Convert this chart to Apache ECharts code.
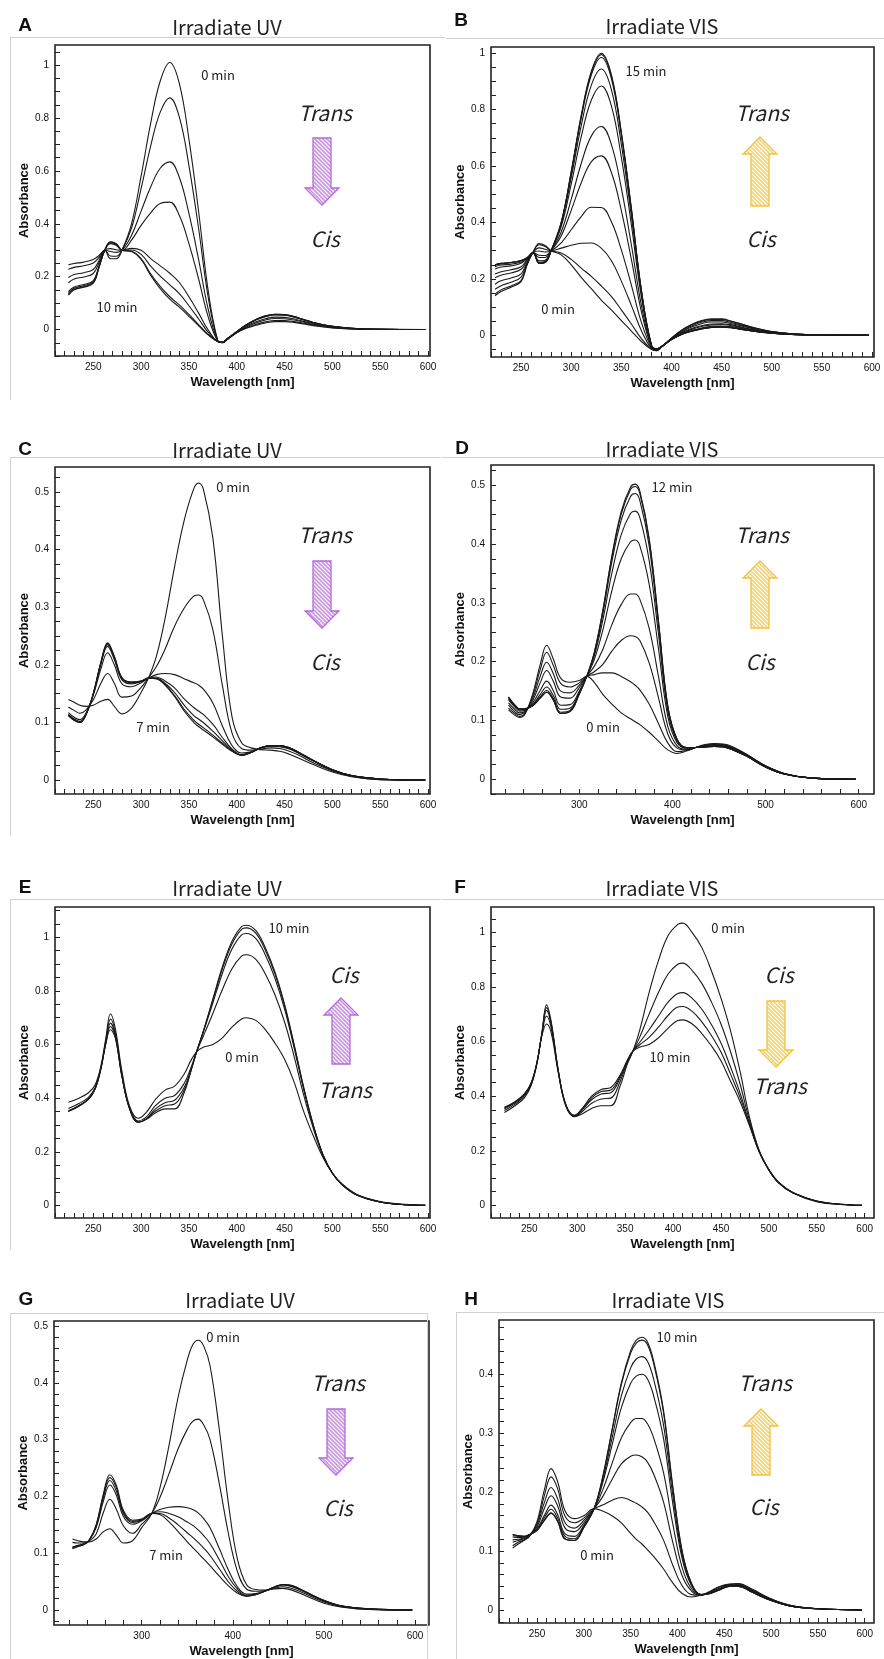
<!DOCTYPE html>
<html>
<head>
<meta charset="utf-8">
<script src="https://cdn.jsdelivr.net/npm/echarts@6/dist/echarts.min.js"></script>
<style>
html,body{margin:0;padding:0;background:#fff}
#chart{width:884px;height:1659px}
</style>
</head>
<body>
<div id="chart"></div>
<script>
// ---------- wavelength sampling (nm) ----------
const wlAB = [224,230,240,250,256,262,268,274,280,290,300,310,320,330,340,350,360,370,380,385,390,400,410,420,430,440,450,460,470,480,500,520,550,597];
const wlCD = [224,230,236,242,250,258,265,272,280,290,300,308,316,325,335,345,355,360,365,375,385,395,405,415,425,435,445,455,465,480,500,520,550,597];
const wlEF = [224,235,245,252,258,263,268,273,280,288,297,305,315,325,335,345,352,358,365,375,385,395,405,410,420,430,440,450,460,470,480,490,500,510,525,550,575,597];
const wlGH = [224,230,236,242,250,258,265,272,280,290,300,311,320,330,340,350,356,362,368,375,385,395,405,415,425,435,445,455,465,480,500,520,550,597];

// ---------- tick labels ----------
const xTicks50 = [250,300,350,400,450,500,550,600];
const xTicks100 = [300,400,500,600];
const yTicks02 = [0,0.2,0.4,0.6,0.8,1];
const yTicks01 = [0,0.1,0.2,0.3,0.4,0.5];
const yTicks01H = [0,0.1,0.2,0.3,0.4];

// ---------- A: irradiate UV, 0 min -> 10 min ----------
const specA0  = [0.245,0.250,0.255,0.265,0.280,0.300,0.268,0.268,0.300,0.400,0.580,0.780,0.940,1.010,0.930,0.720,0.450,0.150,-0.040,-0.050,-0.038,-0.012,0.005,0.016,0.025,0.030,0.030,0.027,0.021,0.015,0.006,0.002,0.000,0.000];
const specA1  = [0.228,0.235,0.241,0.252,0.273,0.300,0.278,0.277,0.300,0.384,0.533,0.694,0.822,0.876,0.803,0.620,0.385,0.125,-0.041,-0.050,-0.038,-0.011,0.007,0.019,0.029,0.034,0.034,0.030,0.024,0.017,0.007,0.002,0.000,0.000];
const specA2  = [0.197,0.208,0.215,0.227,0.261,0.300,0.295,0.292,0.300,0.356,0.448,0.539,0.610,0.634,0.575,0.439,0.267,0.079,-0.042,-0.049,-0.037,-0.010,0.010,0.025,0.036,0.042,0.041,0.036,0.028,0.020,0.009,0.003,0.001,0.000];
const specA3  = [0.177,0.191,0.199,0.212,0.253,0.300,0.306,0.302,0.300,0.338,0.394,0.441,0.477,0.482,0.431,0.325,0.193,0.050,-0.043,-0.049,-0.036,-0.010,0.013,0.029,0.041,0.047,0.046,0.040,0.031,0.022,0.010,0.004,0.001,0.000];
const specA4  = [0.143,0.161,0.170,0.185,0.240,0.300,0.325,0.319,0.300,0.307,0.300,0.268,0.241,0.213,0.178,0.124,0.063,-0.001,-0.045,-0.048,-0.035,-0.008,0.017,0.036,0.049,0.055,0.054,0.047,0.036,0.026,0.011,0.005,0.001,0.000];
const specA5  = [0.137,0.156,0.166,0.180,0.238,0.300,0.328,0.322,0.300,0.301,0.284,0.240,0.202,0.169,0.136,0.090,0.041,-0.010,-0.045,-0.048,-0.035,-0.008,0.017,0.037,0.050,0.056,0.055,0.048,0.037,0.026,0.012,0.005,0.001,0.000];
const specA6  = [0.132,0.152,0.162,0.177,0.236,0.300,0.331,0.324,0.300,0.296,0.268,0.211,0.163,0.124,0.093,0.057,0.019,-0.018,-0.045,-0.048,-0.035,-0.008,0.018,0.038,0.052,0.058,0.057,0.049,0.038,0.027,0.012,0.005,0.001,0.000];
const specA10 = [0.130,0.150,0.160,0.175,0.235,0.300,0.332,0.325,0.300,0.295,0.265,0.205,0.155,0.115,0.085,0.050,0.015,-0.020,-0.045,-0.048,-0.035,-0.008,0.018,0.038,0.052,0.058,0.057,0.049,0.038,0.027,0.012,0.005,0.001,0.000];

// ---------- B: irradiate VIS, 0 min -> 15 min ----------
const specB0  = [0.140,0.155,0.170,0.190,0.250,0.295,0.325,0.318,0.300,0.285,0.250,0.205,0.165,0.125,0.090,0.052,0.015,-0.022,-0.050,-0.055,-0.042,-0.010,0.018,0.038,0.052,0.058,0.058,0.050,0.040,0.029,0.013,0.005,0.001,0.000];
const specB1  = [0.146,0.161,0.175,0.194,0.251,0.295,0.321,0.315,0.300,0.292,0.269,0.238,0.209,0.175,0.138,0.090,0.040,-0.012,-0.049,-0.055,-0.042,-0.010,0.017,0.037,0.050,0.056,0.056,0.049,0.039,0.028,0.013,0.005,0.001,0.000];
const specB2  = [0.163,0.176,0.188,0.206,0.255,0.294,0.310,0.305,0.300,0.309,0.319,0.326,0.327,0.309,0.265,0.192,0.106,0.016,-0.047,-0.054,-0.042,-0.011,0.015,0.033,0.046,0.052,0.052,0.045,0.036,0.026,0.012,0.005,0.001,0.000];
const specB3  = [0.181,0.193,0.203,0.218,0.259,0.294,0.299,0.295,0.300,0.328,0.374,0.421,0.454,0.453,0.403,0.303,0.178,0.046,-0.044,-0.052,-0.041,-0.012,0.012,0.029,0.041,0.047,0.047,0.041,0.033,0.024,0.011,0.004,0.001,0.000];
const specB4  = [0.204,0.213,0.221,0.234,0.265,0.293,0.284,0.283,0.300,0.352,0.443,0.541,0.615,0.636,0.578,0.442,0.269,0.084,-0.041,-0.051,-0.041,-0.013,0.009,0.024,0.034,0.040,0.041,0.037,0.029,0.021,0.009,0.004,0.001,0.000];
const specB5  = [0.217,0.225,0.232,0.243,0.268,0.293,0.276,0.276,0.300,0.366,0.482,0.609,0.706,0.740,0.677,0.522,0.321,0.106,-0.039,-0.050,-0.041,-0.014,0.007,0.021,0.031,0.037,0.038,0.034,0.027,0.019,0.009,0.004,0.001,0.000];
const specB6  = [0.235,0.242,0.246,0.255,0.272,0.292,0.264,0.266,0.300,0.385,0.536,0.704,0.833,0.884,0.814,0.631,0.392,0.136,-0.037,-0.049,-0.040,-0.014,0.005,0.017,0.026,0.032,0.033,0.030,0.024,0.017,0.008,0.003,0.001,0.000];
const specB7  = [0.243,0.249,0.252,0.260,0.273,0.292,0.259,0.262,0.300,0.393,0.559,0.743,0.886,0.944,0.872,0.677,0.422,0.148,-0.036,-0.048,-0.040,-0.015,0.004,0.016,0.024,0.030,0.031,0.028,0.022,0.016,0.007,0.003,0.001,0.000];
const specB8  = [0.248,0.253,0.257,0.264,0.275,0.292,0.256,0.259,0.300,0.398,0.574,0.770,0.922,0.985,0.911,0.709,0.443,0.157,-0.035,-0.048,-0.040,-0.015,0.003,0.014,0.023,0.029,0.030,0.027,0.021,0.015,0.007,0.003,0.001,0.000];
const specB9  = [0.250,0.255,0.258,0.265,0.275,0.292,0.255,0.258,0.300,0.399,0.578,0.777,0.930,0.995,0.920,0.716,0.447,0.159,-0.035,-0.048,-0.040,-0.015,0.003,0.014,0.022,0.028,0.029,0.027,0.021,0.015,0.007,0.003,0.001,0.000];
const specB15 = [0.250,0.255,0.258,0.265,0.275,0.292,0.255,0.258,0.300,0.400,0.580,0.780,0.935,1.000,0.925,0.720,0.450,0.160,-0.035,-0.048,-0.040,-0.015,0.003,0.014,0.022,0.028,0.029,0.027,0.021,0.015,0.007,0.003,0.001,0.000];

// ---------- C: irradiate UV, 0 min -> 7 min ----------
const specC0 = [0.140,0.135,0.130,0.128,0.130,0.137,0.140,0.128,0.115,0.125,0.152,0.178,0.215,0.280,0.370,0.450,0.505,0.515,0.505,0.420,0.250,0.110,0.065,0.056,0.053,0.052,0.050,0.045,0.038,0.027,0.014,0.006,0.001,0.000];
const specC1 = [0.127,0.121,0.116,0.121,0.139,0.168,0.185,0.168,0.144,0.146,0.161,0.178,0.197,0.227,0.267,0.298,0.319,0.321,0.313,0.261,0.164,0.082,0.055,0.052,0.054,0.056,0.055,0.050,0.043,0.030,0.016,0.007,0.001,0.000];
const specC2 = [0.117,0.109,0.105,0.115,0.147,0.193,0.221,0.200,0.167,0.162,0.169,0.177,0.183,0.185,0.183,0.176,0.169,0.165,0.158,0.134,0.094,0.060,0.047,0.049,0.056,0.059,0.058,0.054,0.046,0.033,0.017,0.008,0.002,0.000];
const specC3 = [0.114,0.106,0.102,0.113,0.149,0.201,0.232,0.209,0.174,0.167,0.171,0.177,0.179,0.172,0.160,0.141,0.126,0.120,0.114,0.097,0.074,0.054,0.044,0.049,0.056,0.059,0.059,0.055,0.047,0.034,0.018,0.008,0.002,0.000];
const specC4 = [0.113,0.105,0.101,0.112,0.149,0.203,0.235,0.212,0.176,0.169,0.171,0.177,0.177,0.168,0.152,0.130,0.112,0.106,0.100,0.085,0.068,0.052,0.044,0.048,0.056,0.060,0.060,0.056,0.048,0.034,0.018,0.008,0.002,0.000];
const specC5 = [0.112,0.104,0.100,0.112,0.150,0.204,0.237,0.214,0.177,0.170,0.172,0.177,0.176,0.166,0.147,0.123,0.104,0.097,0.091,0.078,0.064,0.051,0.043,0.048,0.056,0.060,0.060,0.056,0.048,0.034,0.018,0.008,0.002,0.000];
const specC7 = [0.112,0.104,0.100,0.112,0.150,0.205,0.238,0.215,0.178,0.170,0.172,0.177,0.176,0.165,0.145,0.120,0.100,0.093,0.087,0.075,0.062,0.050,0.043,0.048,0.056,0.060,0.060,0.056,0.048,0.034,0.018,0.008,0.002,0.000];

// ---------- D: irradiate VIS, 0 min -> 12 min ----------
const specD0  = [0.118,0.110,0.105,0.112,0.145,0.195,0.228,0.205,0.172,0.165,0.168,0.175,0.165,0.145,0.128,0.113,0.103,0.098,0.093,0.080,0.065,0.050,0.044,0.048,0.054,0.059,0.061,0.060,0.055,0.042,0.023,0.010,0.002,0.000];
const specD1  = [0.121,0.113,0.107,0.113,0.142,0.186,0.216,0.194,0.163,0.157,0.164,0.175,0.178,0.181,0.181,0.175,0.166,0.160,0.152,0.128,0.095,0.062,0.047,0.049,0.054,0.058,0.060,0.059,0.054,0.042,0.023,0.010,0.002,0.000];
const specD2  = [0.126,0.116,0.110,0.115,0.138,0.175,0.199,0.180,0.150,0.147,0.160,0.175,0.183,0.195,0.218,0.236,0.244,0.243,0.236,0.198,0.139,0.077,0.053,0.050,0.054,0.058,0.059,0.058,0.053,0.041,0.022,0.010,0.002,0.000];
const specD3  = [0.130,0.120,0.113,0.116,0.134,0.164,0.185,0.167,0.140,0.138,0.156,0.175,0.192,0.220,0.263,0.297,0.315,0.315,0.306,0.257,0.175,0.090,0.057,0.051,0.054,0.057,0.058,0.057,0.052,0.040,0.022,0.009,0.002,0.000];
const specD4  = [0.135,0.124,0.116,0.118,0.130,0.151,0.167,0.151,0.126,0.127,0.150,0.175,0.203,0.252,0.321,0.375,0.404,0.407,0.397,0.332,0.222,0.107,0.062,0.053,0.054,0.056,0.057,0.056,0.051,0.040,0.021,0.009,0.002,0.000];
const specD5  = [0.137,0.126,0.118,0.119,0.127,0.144,0.157,0.143,0.119,0.121,0.148,0.175,0.209,0.269,0.351,0.416,0.452,0.456,0.445,0.372,0.247,0.116,0.065,0.053,0.054,0.055,0.057,0.056,0.051,0.039,0.021,0.009,0.002,0.000];
const specD6  = [0.139,0.127,0.119,0.120,0.126,0.140,0.151,0.138,0.114,0.117,0.146,0.175,0.213,0.279,0.370,0.441,0.481,0.486,0.474,0.397,0.262,0.122,0.067,0.054,0.054,0.055,0.056,0.055,0.050,0.039,0.021,0.009,0.002,0.000];
const specD7  = [0.140,0.128,0.120,0.120,0.125,0.138,0.148,0.135,0.112,0.115,0.145,0.175,0.215,0.284,0.378,0.451,0.493,0.498,0.486,0.407,0.268,0.124,0.068,0.054,0.054,0.055,0.056,0.055,0.050,0.039,0.021,0.009,0.002,0.000];
const specD12 = [0.140,0.128,0.120,0.120,0.125,0.138,0.148,0.135,0.112,0.115,0.145,0.175,0.215,0.285,0.380,0.455,0.497,0.502,0.490,0.410,0.270,0.125,0.068,0.054,0.054,0.055,0.056,0.055,0.050,0.039,0.021,0.009,0.002,0.000];

// ---------- E: irradiate UV, 0 min -> 10 min ----------
const specE0  = [0.385,0.400,0.420,0.450,0.520,0.620,0.715,0.660,0.500,0.370,0.325,0.345,0.395,0.430,0.445,0.490,0.540,0.573,0.590,0.600,0.625,0.665,0.695,0.700,0.690,0.655,0.605,0.545,0.460,0.350,0.260,0.180,0.120,0.080,0.042,0.014,0.004,0.000];
const specE1  = [0.361,0.380,0.403,0.440,0.513,0.612,0.695,0.645,0.486,0.363,0.315,0.328,0.372,0.400,0.410,0.455,0.513,0.573,0.631,0.716,0.805,0.883,0.930,0.935,0.918,0.862,0.785,0.684,0.555,0.411,0.287,0.187,0.120,0.079,0.041,0.013,0.003,0.000];
const specE2  = [0.353,0.373,0.397,0.436,0.511,0.606,0.680,0.638,0.482,0.361,0.311,0.322,0.360,0.383,0.392,0.440,0.504,0.573,0.645,0.755,0.866,0.956,1.009,1.014,0.995,0.933,0.846,0.732,0.587,0.432,0.296,0.189,0.120,0.078,0.040,0.013,0.003,0.000];
const specE3  = [0.351,0.371,0.396,0.435,0.510,0.603,0.667,0.630,0.481,0.360,0.310,0.321,0.352,0.372,0.378,0.430,0.501,0.573,0.648,0.765,0.882,0.975,1.030,1.035,1.015,0.951,0.862,0.744,0.596,0.437,0.299,0.190,0.120,0.078,0.040,0.013,0.003,0.000];
const specE10 = [0.350,0.370,0.395,0.435,0.510,0.600,0.655,0.625,0.480,0.360,0.310,0.320,0.345,0.360,0.360,0.420,0.500,0.573,0.650,0.770,0.890,0.985,1.040,1.045,1.025,0.960,0.870,0.750,0.600,0.440,0.300,0.190,0.120,0.078,0.040,0.013,0.003,0.000];

// ---------- F: irradiate VIS, 0 min -> 10 min ----------
const specF0  = [0.340,0.365,0.395,0.440,0.520,0.620,0.665,0.630,0.490,0.365,0.325,0.335,0.355,0.365,0.365,0.440,0.515,0.565,0.640,0.780,0.900,0.990,1.030,1.035,1.000,0.945,0.860,0.760,0.640,0.490,0.320,0.200,0.130,0.082,0.045,0.013,0.003,0.000];
const specF1  = [0.348,0.371,0.401,0.444,0.522,0.624,0.694,0.647,0.494,0.367,0.327,0.343,0.374,0.390,0.393,0.457,0.521,0.565,0.615,0.701,0.782,0.849,0.884,0.888,0.861,0.814,0.746,0.665,0.563,0.444,0.308,0.198,0.130,0.083,0.046,0.014,0.003,0.000];
const specF2  = [0.354,0.376,0.406,0.447,0.524,0.627,0.715,0.659,0.497,0.369,0.329,0.349,0.387,0.408,0.413,0.469,0.526,0.565,0.597,0.644,0.695,0.746,0.777,0.780,0.759,0.719,0.663,0.595,0.507,0.411,0.298,0.196,0.130,0.084,0.046,0.015,0.004,0.000];
const specF3  = [0.357,0.378,0.408,0.449,0.524,0.629,0.725,0.664,0.499,0.369,0.329,0.352,0.394,0.417,0.423,0.474,0.528,0.565,0.588,0.616,0.654,0.697,0.727,0.729,0.711,0.673,0.623,0.562,0.481,0.395,0.294,0.195,0.130,0.085,0.047,0.016,0.004,0.000];
const specF10 = [0.360,0.380,0.410,0.450,0.525,0.630,0.735,0.670,0.500,0.370,0.330,0.355,0.400,0.425,0.432,0.480,0.530,0.565,0.580,0.590,0.615,0.650,0.678,0.680,0.665,0.630,0.585,0.530,0.455,0.380,0.290,0.195,0.130,0.085,0.047,0.016,0.004,0.000];

// ---------- G: irradiate UV, 0 min -> 7 min ----------
const specG0 = [0.125,0.122,0.120,0.120,0.125,0.138,0.143,0.132,0.118,0.122,0.145,0.170,0.215,0.290,0.375,0.440,0.467,0.475,0.465,0.430,0.320,0.190,0.090,0.045,0.036,0.035,0.037,0.038,0.035,0.025,0.012,0.005,0.001,0.000];
const specG1 = [0.119,0.118,0.118,0.121,0.134,0.172,0.195,0.178,0.148,0.135,0.151,0.170,0.198,0.240,0.284,0.318,0.332,0.336,0.326,0.300,0.224,0.136,0.068,0.037,0.033,0.034,0.038,0.041,0.038,0.028,0.014,0.006,0.001,0.000];
const specG2 = [0.111,0.114,0.116,0.122,0.145,0.192,0.220,0.203,0.164,0.151,0.157,0.170,0.177,0.181,0.182,0.180,0.177,0.171,0.161,0.145,0.109,0.071,0.041,0.028,0.029,0.033,0.039,0.044,0.041,0.031,0.016,0.007,0.002,0.000];
const specG3 = [0.110,0.113,0.116,0.122,0.147,0.198,0.228,0.210,0.169,0.154,0.158,0.170,0.173,0.170,0.164,0.155,0.149,0.141,0.131,0.117,0.089,0.059,0.037,0.026,0.028,0.033,0.040,0.044,0.042,0.031,0.016,0.007,0.002,0.000];
const specG4 = [0.109,0.112,0.115,0.122,0.149,0.202,0.233,0.216,0.172,0.156,0.159,0.170,0.170,0.162,0.150,0.136,0.128,0.119,0.109,0.096,0.073,0.050,0.033,0.025,0.027,0.033,0.040,0.045,0.043,0.032,0.017,0.007,0.002,0.000];
const specG7 = [0.108,0.112,0.115,0.122,0.150,0.205,0.238,0.220,0.175,0.158,0.160,0.170,0.168,0.155,0.138,0.120,0.110,0.100,0.090,0.078,0.060,0.043,0.030,0.024,0.027,0.033,0.040,0.045,0.043,0.032,0.017,0.007,0.002,0.000];

// ---------- H: irradiate VIS, 0 min -> 10 min ----------
const specH0  = [0.105,0.112,0.118,0.125,0.150,0.205,0.240,0.218,0.168,0.155,0.160,0.172,0.168,0.160,0.148,0.130,0.120,0.112,0.102,0.090,0.070,0.046,0.028,0.022,0.025,0.032,0.040,0.044,0.045,0.035,0.019,0.008,0.002,0.000];
const specH1  = [0.109,0.115,0.119,0.126,0.147,0.195,0.226,0.206,0.159,0.148,0.156,0.172,0.178,0.186,0.191,0.186,0.181,0.175,0.166,0.149,0.119,0.076,0.041,0.026,0.025,0.031,0.039,0.043,0.044,0.034,0.018,0.008,0.002,0.000];
const specH2  = [0.115,0.118,0.121,0.126,0.144,0.183,0.208,0.189,0.148,0.139,0.152,0.172,0.192,0.221,0.248,0.261,0.263,0.260,0.251,0.229,0.184,0.115,0.058,0.032,0.025,0.030,0.037,0.042,0.043,0.033,0.018,0.008,0.002,0.000];
const specH3  = [0.119,0.120,0.122,0.127,0.141,0.173,0.194,0.177,0.139,0.133,0.148,0.172,0.203,0.248,0.292,0.318,0.325,0.325,0.316,0.290,0.234,0.146,0.072,0.036,0.026,0.030,0.036,0.042,0.042,0.032,0.017,0.007,0.002,0.000];
const specH4  = [0.124,0.123,0.124,0.127,0.138,0.161,0.178,0.162,0.129,0.125,0.144,0.172,0.215,0.279,0.343,0.385,0.397,0.400,0.392,0.361,0.292,0.181,0.087,0.041,0.026,0.029,0.035,0.041,0.041,0.031,0.017,0.007,0.002,0.000];
const specH5  = [0.126,0.125,0.124,0.128,0.136,0.157,0.171,0.156,0.125,0.121,0.142,0.172,0.220,0.291,0.363,0.411,0.426,0.430,0.422,0.389,0.315,0.195,0.093,0.043,0.026,0.028,0.035,0.040,0.040,0.030,0.016,0.007,0.002,0.000];
const specH6  = [0.128,0.126,0.125,0.128,0.135,0.153,0.165,0.151,0.121,0.118,0.140,0.172,0.224,0.303,0.382,0.436,0.453,0.458,0.450,0.415,0.336,0.208,0.099,0.045,0.026,0.028,0.034,0.040,0.040,0.030,0.016,0.007,0.002,0.000];
const specH10 = [0.128,0.126,0.125,0.128,0.135,0.152,0.164,0.150,0.120,0.118,0.140,0.172,0.225,0.305,0.385,0.440,0.458,0.463,0.455,0.420,0.340,0.210,0.100,0.045,0.026,0.028,0.034,0.040,0.040,0.030,0.016,0.007,0.002,0.000];

// ---------- panel layout ----------
const panels = [
  { grid:{left:55,  top:45,   width:375, height:311}, x:[210,602],     y:[-0.1,1.076],    xt:xTicks50,  xs:10, yt:yTicks02,  ys:0.05,  wl:wlAB, curves:[specA0,specA1,specA2,specA3,specA4,specA5,specA6,specA10] },
  { grid:{left:491, top:47,   width:383, height:310}, x:[220,602],     y:[-0.077,1.022],  xt:xTicks50,  xs:10, yt:yTicks02,  ys:0.05,  wl:wlAB, curves:[specB0,specB1,specB2,specB3,specB4,specB5,specB6,specB7,specB8,specB9,specB15] },
  { grid:{left:55,  top:467,  width:375, height:327}, x:[210,602],     y:[-0.024,0.543],  xt:xTicks50,  xs:10, yt:yTicks01,  ys:0.025, wl:wlCD, curves:[specC0,specC1,specC2,specC3,specC4,specC5,specC7] },
  { grid:{left:491, top:465,  width:383, height:329}, x:[205.2,616.4], y:[-0.025,0.5345], xt:xTicks100, xs:20, yt:yTicks01,  ys:0.025, wl:wlCD, curves:[specD0,specD1,specD2,specD3,specD4,specD5,specD6,specD7,specD12] },
  { grid:{left:55,  top:907,  width:375, height:311}, x:[210,602],     y:[-0.047,1.113],  xt:xTicks50,  xs:10, yt:yTicks02,  ys:0.05,  wl:wlEF, curves:[specE0,specE1,specE2,specE3,specE10] },
  { grid:{left:491, top:907,  width:383, height:311}, x:[210,609.7],   y:[-0.0466,1.094], xt:xTicks50,  xs:10, yt:yTicks02,  ys:0.05,  wl:wlEF, curves:[specF0,specF1,specF2,specF3,specF10] },
  { grid:{left:54,  top:1321, width:375, height:304}, x:[203.7,615.4], y:[-0.0264,0.5088],xt:xTicks100, xs:20, yt:yTicks01,  ys:0.02,  wl:wlGH, curves:[specG0,specG1,specG2,specG3,specG4,specG7] },
  { grid:{left:499, top:1320, width:375, height:303}, x:[209.4,609.9], y:[-0.0221,0.4922],xt:xTicks50,  xs:10, yt:yTicks01H, ys:0.02,  wl:wlGH, curves:[specH0,specH1,specH2,specH3,specH4,specH5,specH6,specH10] }
];

function tickList(min, max, step) {
  const out = [];
  const k0 = Math.ceil(min / step - 1e-9), k1 = Math.floor(max / step + 1e-9);
  for (let k = k0; k <= k1; k++) out.push(+(k * step).toFixed(4));
  return out;
}
const zip = (wl, vals) => wl.map((w, i) => [w, vals[i]]);

const tickFont = { fontFamily: 'Liberation Sans, Arial, sans-serif', fontSize: 10, color: '#111' };
const nameFont = { fontFamily: 'Liberation Sans, Arial, sans-serif', fontSize: 13, fontWeight: 'bold', color: '#111' };

const grids = [], xAxes = [], yAxes = [], series = [];
panels.forEach((p, i) => {
  grids.push(Object.assign({ show: true, borderColor: '#222', borderWidth: 1.6, backgroundColor: 'transparent' }, p.grid));
  xAxes.push({
    type: 'value', gridIndex: i, min: p.x[0], max: p.x[1], position: 'bottom',
    name: 'Wavelength [nm]', nameLocation: 'middle', nameGap: 20, nameTextStyle: nameFont,
    axisLine: { show: false, onZero: false }, splitLine: { show: false },
    axisTick: { inside: true, length: 5, customValues: tickList(p.x[0], p.x[1], p.xs), lineStyle: { color: '#222', width: 1 } },
    axisLabel: Object.assign({ customValues: p.xt, margin: 6, formatter: v => String(v) }, tickFont)
  });
  yAxes.push({
    type: 'value', gridIndex: i, min: p.y[0], max: p.y[1], position: 'left',
    name: 'Absorbance', nameLocation: 'middle', nameGap: 22, nameTextStyle: nameFont,
    axisLine: { show: false, onZero: false }, splitLine: { show: false },
    axisTick: { inside: true, length: 5, customValues: tickList(p.y[0], p.y[1], p.ys), lineStyle: { color: '#222', width: 1 } },
    axisLabel: Object.assign({ customValues: p.yt, margin: 6, formatter: v => String(+v.toFixed(2)) }, tickFont)
  });
  p.curves.forEach(c => {
    series.push({
      type: 'line', xAxisIndex: i, yAxisIndex: i, data: zip(p.wl, c),
      showSymbol: false, smooth: 0.4, silent: true,
      lineStyle: { color: '#1a1a1a', width: 1.1 }
    });
  });
});

// ---------- hatched arrows and annotations ----------
function stripes(color) {
  const c = document.createElement('canvas');
  c.width = 4; c.height = 4;
  const g = c.getContext('2d');
  g.fillStyle = '#fff'; g.fillRect(0, 0, 4, 4);
  g.strokeStyle = color; g.lineWidth = 1.6;
  g.beginPath();
  g.moveTo(-1, -1); g.lineTo(5, 5);
  g.moveTo(-1, 3); g.lineTo(1, 5);
  g.moveTo(3, -1); g.lineTo(5, 1);
  g.stroke();
  return { type: 'pattern', image: c, repeat: 'repeat' };
}
const uvFill = stripes('#cf8ef0'), visFill = stripes('#f7d270');
function arrow(cx, tail, tip, fill, stroke) {
  const s = 9, h = 17, L = 17, d = tip > tail ? -1 : 1;
  const b = tip + d * L;
  return {
    type: 'polygon', silent: true,
    shape: { points: [[cx - s, tail], [cx + s, tail], [cx + s, b], [cx + h, b], [cx, tip], [cx - h, b], [cx - s, b]] },
    style: { fill: fill, stroke: stroke, lineWidth: 1.3 }
  };
}
function txt(x, y, text, font, fill) {
  return { type: 'text', silent: true, x: x, y: y,
    style: { text: text, font: font, fill: fill || '#222', align: 'center', verticalAlign: 'middle' } };
}
function hline(x1, x2, y) {
  return { type: 'line', silent: true, shape: { x1: x1, y1: y, x2: x2, y2: y }, style: { stroke: '#d2d2d2', lineWidth: 1 } };
}
function vline(x, y1, y2) {
  return { type: 'line', silent: true, shape: { x1: x, y1: y1, x2: x, y2: y2 }, style: { stroke: '#d2d2d2', lineWidth: 1 } };
}
const titleFont = '20px "Noto Sans CJK JP", "Noto Sans", sans-serif';
const letterFont = 'bold 19px "Liberation Sans", Arial, sans-serif';
const stateFont = 'italic 21px "Noto Sans CJK JP", "Noto Sans", sans-serif';
const timeFont = '13px "Noto Sans CJK JP", "Noto Sans", sans-serif';

const graphics = [
  hline(10, 445, 37.5), vline(10.5, 37, 400), hline(446, 884, 38.5),
  hline(10, 441, 457.5), vline(10.5, 457, 836), hline(442, 884, 457.5),
  hline(10, 441, 899.5), vline(10.5, 899, 1250), hline(442, 884, 899.5),
  hline(10, 427, 1313.5), vline(10.5, 1313, 1659), vline(427.5, 1313, 1659),
  hline(456, 884, 1312.5), vline(456.5, 1312, 1659),

  txt(25, 26, 'A', letterFont, '#111'), txt(227, 27, 'Irradiate UV', titleFont),
  txt(461, 21, 'B', letterFont, '#111'), txt(662, 26, 'Irradiate VIS', titleFont),
  txt(25, 450, 'C', letterFont, '#111'), txt(227, 450, 'Irradiate UV', titleFont),
  txt(462, 449, 'D', letterFont, '#111'), txt(662, 449, 'Irradiate VIS', titleFont),
  txt(25, 888, 'E', letterFont, '#111'), txt(227, 888, 'Irradiate UV', titleFont),
  txt(460, 888, 'F', letterFont, '#111'), txt(662, 888, 'Irradiate VIS', titleFont),
  txt(26, 1300, 'G', letterFont, '#111'), txt(240, 1300, 'Irradiate UV', titleFont),
  txt(471, 1300, 'H', letterFont, '#111'), txt(668, 1300, 'Irradiate VIS', titleFont),

  arrow(322, 138, 205, uvFill, '#b56ad8'),
  arrow(760, 206, 137, visFill, '#f4c23c'),
  arrow(322, 561, 628, uvFill, '#b56ad8'),
  arrow(760, 628, 561, visFill, '#f4c23c'),
  arrow(341, 1064, 998, uvFill, '#b56ad8'),
  arrow(776, 1001, 1067, visFill, '#f4c23c'),
  arrow(336, 1409, 1475, uvFill, '#b56ad8'),
  arrow(761, 1475, 1409, visFill, '#f4c23c'),

  txt(325, 113, 'Trans', stateFont), txt(325, 239, 'Cis', stateFont),
  txt(218, 75, '0 min', timeFont), txt(117, 307, '10 min', timeFont),
  txt(762, 113, 'Trans', stateFont), txt(761, 239, 'Cis', stateFont),
  txt(646, 71, '15 min', timeFont), txt(558, 309, '0 min', timeFont),
  txt(325, 535, 'Trans', stateFont), txt(325, 662, 'Cis', stateFont),
  txt(233, 487, '0 min', timeFont), txt(153, 727, '7 min', timeFont),
  txt(762, 535, 'Trans', stateFont), txt(760, 662, 'Cis', stateFont),
  txt(672, 487, '12 min', timeFont), txt(603, 727, '0 min', timeFont),
  txt(344, 975, 'Cis', stateFont), txt(345, 1090, 'Trans', stateFont),
  txt(289, 928, '10 min', timeFont), txt(242, 1057, '0 min', timeFont),
  txt(779, 975, 'Cis', stateFont), txt(780, 1086, 'Trans', stateFont),
  txt(728, 928, '0 min', timeFont), txt(670, 1057, '10 min', timeFont),
  txt(338, 1383, 'Trans', stateFont), txt(338, 1508, 'Cis', stateFont),
  txt(223, 1337, '0 min', timeFont), txt(166, 1555, '7 min', timeFont),
  txt(765, 1383, 'Trans', stateFont), txt(764, 1507, 'Cis', stateFont),
  txt(677, 1337, '10 min', timeFont), txt(597, 1555, '0 min', timeFont)
];

const chart = echarts.init(document.getElementById('chart'), null, { renderer: 'canvas' });
chart.setOption({
  animation: false,
  backgroundColor: '#fff',
  grid: grids, xAxis: xAxes, yAxis: yAxes, series: series,
  graphic: { elements: graphics }
});
</script>
</body>
</html>
